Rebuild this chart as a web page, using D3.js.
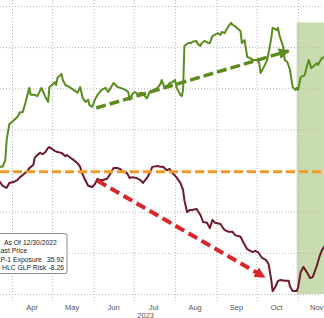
<!DOCTYPE html>
<html>
<head>
<meta charset="utf-8">
<script src="https://cdn.jsdelivr.net/npm/d3@7"></script>
<style>
  body { margin: 0; background: #fff; }
  svg { display: block; }
</style>
</head>
<body>
<div id="chart"></div>
<script>
// GLP-1 exposure basket vs HLC GLP risk, 2023
const glpExposure = [
  ["2023-03-21", 30.9], ["2023-03-23", 30.9], ["2023-03-25", 30.9], ["2023-03-27", 32.6],
  ["2023-03-28", 37.4], ["2023-03-29", 39.4], ["2023-03-30", 41.3], ["2023-04-02", 42.1],
  ["2023-04-05", 43.0], ["2023-04-07", 44.2], ["2023-04-09", 44.2], ["2023-04-11", 46.4],
  ["2023-04-13", 48.9], ["2023-04-14", 50.1], ["2023-04-15", 48.4], ["2023-04-18", 48.4],
  ["2023-04-20", 48.1], ["2023-04-23", 50.1], ["2023-04-26", 47.9], ["2023-04-28", 46.7],
  ["2023-04-29", 50.3], ["2023-05-01", 50.8], ["2023-05-03", 51.5], ["2023-05-04", 50.8],
  ["2023-05-05", 52.5], ["2023-05-08", 53.5], ["2023-05-09", 52.0], ["2023-05-11", 50.8],
  ["2023-05-14", 50.3], ["2023-05-17", 49.6], ["2023-05-20", 48.9], ["2023-05-22", 50.3],
  ["2023-05-24", 47.6], ["2023-05-26", 46.7], ["2023-05-28", 47.2], ["2023-05-29", 45.9],
  ["2023-05-31", 45.5], ["2023-06-02", 47.2], ["2023-06-04", 48.4], ["2023-06-07", 49.6],
  ["2023-06-10", 50.1], ["2023-06-12", 49.1], ["2023-06-16", 51.3], ["2023-06-19", 50.3],
  ["2023-06-21", 50.1], ["2023-06-25", 49.6], ["2023-06-27", 49.1], ["2023-06-28", 47.2],
  ["2023-06-30", 48.6], ["2023-07-02", 49.1], ["2023-07-04", 48.6], ["2023-07-07", 48.9],
  ["2023-07-10", 47.9], ["2023-07-11", 47.6], ["2023-07-13", 49.1], ["2023-07-16", 49.6],
  ["2023-07-19", 50.1], ["2023-07-21", 51.0], ["2023-07-22", 52.0], ["2023-07-24", 50.3],
  ["2023-07-27", 50.8], ["2023-07-28", 51.3], ["2023-07-30", 51.5], ["2023-08-01", 52.0],
  ["2023-08-02", 50.3], ["2023-08-05", 48.4], ["2023-08-06", 48.1], ["2023-08-07", 49.6],
  ["2023-08-08", 60.3], ["2023-08-11", 61.0], ["2023-08-13", 61.0], ["2023-08-14", 61.3],
  ["2023-08-17", 61.5], ["2023-08-18", 60.8], ["2023-08-20", 60.3], ["2023-08-21", 61.0],
  ["2023-08-23", 61.5], ["2023-08-26", 61.0], ["2023-08-27", 61.0], ["2023-08-29", 62.7],
  ["2023-09-01", 63.2], ["2023-09-02", 63.4], ["2023-09-04", 63.0], ["2023-09-05", 63.7],
  ["2023-09-07", 63.4], ["2023-09-10", 65.1], ["2023-09-12", 65.9], ["2023-09-13", 65.4],
  ["2023-09-15", 65.1], ["2023-09-16", 64.7], ["2023-09-19", 63.9], ["2023-09-20", 61.0],
  ["2023-09-22", 61.7], ["2023-09-24", 57.6], ["2023-09-26", 57.4], ["2023-09-28", 56.9],
  ["2023-10-01", 56.9], ["2023-10-03", 56.2], ["2023-10-04", 53.7], ["2023-10-06", 54.9],
  ["2023-10-09", 56.9], ["2023-10-10", 58.6], ["2023-10-12", 62.2], ["2023-10-13", 64.7],
  ["2023-10-16", 64.2], ["2023-10-17", 64.7], ["2023-10-18", 63.0], ["2023-10-21", 60.0],
  ["2023-10-22", 56.9], ["2023-10-24", 56.4], ["2023-10-26", 54.5], ["2023-10-28", 50.3],
  ["2023-10-30", 49.6], ["2023-10-31", 50.1], ["2023-11-01", 49.6], ["2023-11-03", 52.7],
  ["2023-11-06", 53.2], ["2023-11-08", 55.7], ["2023-11-09", 56.9], ["2023-11-11", 54.9],
  ["2023-11-12", 55.2], ["2023-11-15", 56.1], ["2023-11-16", 55.7], ["2023-11-19", 57.4],
  ["2023-11-22", 57.6]
]

const glpRisk = [
  ["2023-03-21", 27.7], ["2023-03-23", 27.2], ["2023-03-25", 26.3], ["2023-03-28", 25.8],
  ["2023-03-30", 27.0], ["2023-04-02", 27.2], ["2023-04-05", 27.7], ["2023-04-07", 28.4],
  ["2023-04-09", 28.9], ["2023-04-12", 29.7], ["2023-04-14", 30.6], ["2023-04-17", 31.4],
  ["2023-04-18", 33.1], ["2023-04-20", 33.8], ["2023-04-22", 34.3], ["2023-04-24", 34.0],
  ["2023-04-26", 34.5], ["2023-04-28", 35.5], ["2023-04-29", 35.7], ["2023-05-02", 35.0],
  ["2023-05-03", 34.8], ["2023-05-05", 34.5], ["2023-05-08", 34.3], ["2023-05-11", 33.5],
  ["2023-05-12", 33.8], ["2023-05-14", 33.3], ["2023-05-17", 32.6], ["2023-05-20", 31.8],
  ["2023-05-22", 30.9], ["2023-05-23", 29.7], ["2023-05-25", 28.2], ["2023-05-28", 26.3],
  ["2023-05-31", 26.0], ["2023-06-02", 26.7], ["2023-06-04", 28.0], ["2023-06-06", 27.7],
  ["2023-06-08", 27.7], ["2023-06-11", 28.0], ["2023-06-13", 28.9], ["2023-06-16", 30.6],
  ["2023-06-19", 30.6], ["2023-06-21", 30.4], ["2023-06-23", 29.7], ["2023-06-26", 29.4],
  ["2023-06-28", 28.2], ["2023-06-30", 28.4], ["2023-07-03", 28.2], ["2023-07-06", 27.7],
  ["2023-07-08", 27.0], ["2023-07-11", 28.2], ["2023-07-13", 29.4], ["2023-07-15", 30.9],
  ["2023-07-19", 31.1], ["2023-07-21", 30.9], ["2023-07-23", 30.9], ["2023-07-26", 30.1],
  ["2023-07-28", 30.4], ["2023-07-30", 29.4], ["2023-08-02", 28.4], ["2023-08-05", 27.0],
  ["2023-08-07", 25.3], ["2023-08-08", 22.8], ["2023-08-10", 19.9], ["2023-08-12", 20.4],
  ["2023-08-14", 20.4], ["2023-08-17", 20.7], ["2023-08-20", 19.2], ["2023-08-22", 17.5],
  ["2023-08-25", 17.3], ["2023-08-27", 16.0], ["2023-08-29", 18.0], ["2023-08-31", 17.3],
  ["2023-09-04", 17.0], ["2023-09-06", 16.0], ["2023-09-07", 15.6], ["2023-09-10", 15.1],
  ["2023-09-13", 15.1], ["2023-09-15", 14.3], ["2023-09-19", 13.9], ["2023-09-21", 12.6],
  ["2023-09-24", 10.9], ["2023-09-28", 10.2], ["2023-09-30", 10.5], ["2023-10-02", 10.2],
  ["2023-10-05", 8.8], ["2023-10-08", 8.3], ["2023-10-10", 7.3], ["2023-10-12", 3.4],
  ["2023-10-13", 0.7], ["2023-10-15", 1.7], ["2023-10-17", 3.2], ["2023-10-19", 3.4],
  ["2023-10-22", 3.2], ["2023-10-25", 3.2], ["2023-10-26", 1.9], ["2023-10-28", 0.7],
  ["2023-10-31", 0.7], ["2023-11-01", 1.5], ["2023-11-03", 5.3], ["2023-11-05", 6.6],
  ["2023-11-08", 5.1], ["2023-11-10", 3.9], ["2023-11-12", 4.1], ["2023-11-15", 6.8],
  ["2023-11-17", 9.0], ["2023-11-19", 10.7], ["2023-11-22", 12.2]
]

const months = ["Apr", "May", "Jun", "Jul", "Aug", "Sep", "Oct", "Nov"]
const monthStarts = ["2023-04-01", "2023-05-01", "2023-06-01", "2023-07-01",
  "2023-08-01", "2023-09-01", "2023-10-01", "2023-11-01"]
const monthMids = ["2023-04-16", "2023-05-16", "2023-06-16", "2023-07-16",
  "2023-08-16", "2023-09-16", "2023-10-16", "2023-11-15"]
const yearLabel = ["2023", "2023-07-10"]
const yTicks = [0, 10, 20, 30, 40, 50, 60, 70]

const refLevel = 29.7
const shadeStart = "2023-10-31"
const shadeTop = 66
const greenTrend = [["2023-06-03", 45.2], ["2023-10-25", 59.1]]
const redTrend = [["2023-06-04", 27.5], ["2023-10-07", 4.1]]

const legendLines = [
  ["As Of 12/30/2022", ""],
  ["Last Price", ""],
  ["GLP-1 Exposure", "35.92"],
  ["HLC GLP Risk", "-8.26"]
]

const parse = d3.utcParse("%Y-%m-%d")

const width = 324
const height = 318

const x = d3.scaleUtc()
    .domain([parse("2023-04-01"), parse("2023-11-01")])
    .range([12, 298])

const y = d3.scaleLinear()
    .domain([0, 70])
    .range([294, 6])

const svg = d3.select("#chart")
    .append("svg")
    .attr("width", width)
    .attr("height", height)
    .style("font-family", "'Liberation Sans', Arial, sans-serif")

// shaded window
svg.append("rect")
    .attr("x", x(parse(shadeStart)))
    .attr("y", y(shadeTop))
    .attr("width", width - x(parse(shadeStart)))
    .attr("height", y(0) - y(shadeTop))
    .attr("fill", "#c8dcb0")

// dotted grid
svg.append("g")
    .attr("stroke", "#b8b8b8")
    .attr("stroke-dasharray", "1,2")
    .selectAll("line")
    .data(yTicks)
    .join("line")
    .attr("x1", 0)
    .attr("x2", width)
    .attr("y1", d => y(d) + 0.5)
    .attr("y2", d => y(d) + 0.5)

svg.append("g")
    .attr("stroke", "#b8b8b8")
    .attr("stroke-dasharray", "1,2")
    .selectAll("line")
    .data(monthStarts)
    .join("line")
    .attr("x1", d => x(parse(d)) + 0.5)
    .attr("x2", d => x(parse(d)) + 0.5)
    .attr("y1", 0)
    .attr("y2", y(0) + 7)

// month labels
svg.append("g")
    .attr("font-size", 7.5)
    .attr("fill", "#555")
    .attr("text-anchor", "middle")
    .selectAll("text")
    .data(months)
    .join("text")
    .attr("x", (d, i) => x(parse(monthMids[i])))
    .attr("y", 309.5)
    .text(d => d)

svg.append("text")
    .attr("font-size", 7.5)
    .attr("fill", "#555")
    .attr("text-anchor", "middle")
    .attr("x", x(parse(yearLabel[1])))
    .attr("y", 317.5)
    .text(yearLabel[0])

const line = d3.line()
    .x(d => x(parse(d[0])))
    .y(d => y(d[1]))

svg.append("path")
    .datum(glpRisk)
    .attr("fill", "none")
    .attr("stroke", "#6e1a2b")
    .attr("stroke-width", 2)
    .attr("stroke-linejoin", "round")
    .attr("d", line)

svg.append("path")
    .datum(glpExposure)
    .attr("fill", "none")
    .attr("stroke", "#5b8c1e")
    .attr("stroke-width", 2)
    .attr("stroke-linejoin", "round")
    .attr("d", line)

// orange reference level
svg.append("line")
    .attr("x1", 0)
    .attr("x2", width)
    .attr("y1", y(refLevel))
    .attr("y2", y(refLevel))
    .attr("stroke", "#f19a2a")
    .attr("stroke-width", 3)
    .attr("stroke-dasharray", "9,4")

// trend arrows
const defs = svg.append("defs")
const arrow = (id, color) => defs.append("marker")
    .attr("id", id)
    .attr("viewBox", "0 0 10 10")
    .attr("refX", 9)
    .attr("refY", 5)
    .attr("markerUnits", "userSpaceOnUse")
    .attr("markerWidth", 11)
    .attr("markerHeight", 11)
    .attr("orient", "auto")
    .append("path")
    .attr("d", "M0,0L10,5L0,10Z")
    .attr("fill", color)

arrow("arrow-green", "#5b8c1e")
arrow("arrow-red", "#d9262c")

svg.append("path")
    .datum(greenTrend)
    .attr("fill", "none")
    .attr("stroke", "#5b8c1e")
    .attr("stroke-width", 3.5)
    .attr("stroke-dasharray", "10,4")
    .attr("marker-end", "url(#arrow-green)")
    .attr("d", line)

svg.append("path")
    .datum(redTrend)
    .attr("fill", "none")
    .attr("stroke", "#d9262c")
    .attr("stroke-width", 4)
    .attr("stroke-dasharray", "10,5")
    .attr("marker-end", "url(#arrow-red)")
    .attr("d", line)

// legend box, cut at the left edge like the source
const legend = svg.append("g")
    .attr("font-size", 6.8)
    .attr("fill", "#222")

legend.append("rect")
    .attr("x", -30)
    .attr("y", 233.5)
    .attr("width", 97)
    .attr("height", 40)
    .attr("rx", 2)
    .attr("fill", "#fff")
    .attr("stroke", "#8a8a8a")

const legendX = [4, -3, -8.5, 2]

legend.selectAll("text.name")
    .data(legendLines)
    .join("text")
    .attr("class", "name")
    .attr("x", (d, i) => legendX[i])
    .attr("y", (d, i) => 245 + i * 8.3)
    .text(d => d[0])

legend.selectAll("text.value")
    .data(legendLines)
    .join("text")
    .attr("class", "value")
    .attr("x", 64)
    .attr("y", (d, i) => 245 + i * 8.3)
    .attr("text-anchor", "end")
    .text(d => d[1])
</script>
</body>
</html>
